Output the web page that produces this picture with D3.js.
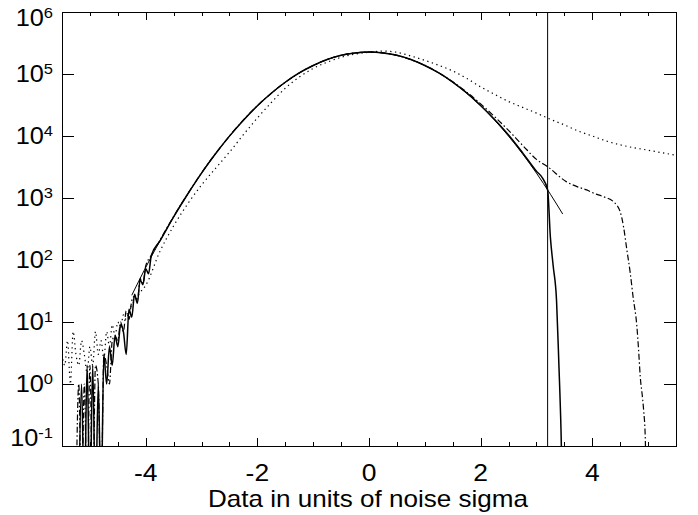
<!DOCTYPE html>
<meta charset="utf-8">
<style>
body { margin: 0; background: #fff; font-family: "Liberation Sans", Arial, sans-serif; }
.axis path, .axis line { fill: none; stroke: #000; shape-rendering: crispEdges; }
text { fill: #000; }
</style>
<body>
<svg id="chart" width="698" height="515"></svg>
<script src="https://d3js.org/d3.v7.min.js"></script>
<script>

// solid histogram
var solidX = [-5.20,-5.15,-5.10,-5.05,-5.00,-4.95,-4.90,-4.85,-4.80,-4.75,-4.70,-4.65,-4.60,-4.55,-4.50,-4.45,-4.40,-4.35,-4.30,-4.25,-4.20,-4.15,-4.10,-4.05,-4.00,-3.95,-3.90,-3.75,-3.50,-3.25,-3.00,-2.75,-2.50,-2.25,-2.00,-1.75,-1.50,-1.25,-1.00,-0.75,-0.50,-0.25,0,0.25,0.50,0.75,1.00,1.25,1.50,1.75,2.00,2.25,2.50,2.75,3.00,3.10,3.20,3.25,3.30,3.36,3.40,3.44,3.47];
var solidY = [0,1,0,2,0,2,0,1,0,3,1,4,2,6,4,9,7,3,16,12,28,20,48,40,72,60,118,200,497,1150,2520,5160,9950,18000,30700,49000,73600,104000,137000,171000,200000,219000,226000,219000,200000,171000,137000,104000,74000,49500,31000,18500,10400,5400,2700,2150,1350,230,80,22,2.3,0.18,0];

// dash-dot histogram
var dashX = [-5.25,-5.20,-5.15,-5.10,-5.05,-5.00,-4.95,-4.90,-4.85,-4.80,-4.75,-4.70,-4.65,-4.60,-4.55,-4.50,-4.45,-4.40,-4.35,-4.30,-4.25,-4.20,-4.15,-4.10,-4.05,-4.00,-3.90,-3.75,-3.50,-3.25,-3.00,-2.75,-2.50,-2.25,-2.00,-1.75,-1.50,-1.25,-1.00,-0.75,-0.50,-0.25,0,0.25,0.50,0.75,1.00,1.25,1.50,1.75,2.00,2.25,2.50,2.75,3.00,3.20,3.54,3.75,3.90,4.02,4.20,4.38,4.50,4.56,4.62,4.68,4.73,4.80,4.83,4.86,4.90,4.92,4.95,4.97];
var dashY = [0,1,0,1,0,2,0,2,1,0,3,2,1,5,6,5,10,7,15,11,22,26,22,50,42,80,118,205,505,1160,2550,5200,10000,18100,30800,49000,73800,104000,137000,171000,200000,219000,226000,219000,200000,171000,138000,105000,75000,51000,33000,20500,12300,7100,4200,3200,1820,1500,1350,1200,1050,870,600,344,145,62,26,8.3,3.5,1.3,0.6,0.38,0.13,0];

// dotted histogram
var dotX = [-5.50,-5.45,-5.40,-5.35,-5.30,-5.25,-5.20,-5.15,-5.10,-5.05,-5.00,-4.95,-4.90,-4.85,-4.80,-4.75,-4.70,-4.65,-4.60,-4.55,-4.50,-4.45,-4.40,-4.35,-4.30,-4.25,-4.20,-4.10,-4.00,-3.75,-3.50,-3.25,-3.00,-2.75,-2.50,-2.25,-2.00,-1.75,-1.50,-1.25,-1.00,-0.75,-0.50,-0.25,0,0.25,0.50,0.75,1.00,1.25,1.50,1.75,2.00,2.25,2.50,2.75,3.00,3.25,3.50,3.75,4.00,4.25,4.50,4.75,5.00,5.25,5.50];
var dotY = [3,2,5,1,7,3,2,5,3,1.5,4,2,7,3,5,2.5,7,4,9,6,10,8,13,11,15,19,22,30,39,135,355,800,1620,3000,5500,10500,19500,34700,58900,89000,123000,155000,186000,209000,224000,234000,224000,195000,166000,138000,112000,85000,62000,47000,36000,29000,23400,18600,15100,12000,10000,8300,7200,6450,5900,5370,4900];

// gaussian fit (thin solid)
var fitX = [-4.25,-4.00,-3.75,-3.50,-3.25,-3.00,-2.75,-2.50,-2.25,-2.00,-1.75,-1.50,-1.25,-1.00,-0.75,-0.50,-0.25,0,0.25,0.50,0.75,1.00,1.25,1.50,1.75,2.00,2.25,2.50,2.75,3.00,3.25,3.47];
var fitY = [27,76,200,497,1150,2520,5160,9950,18000,30700,49000,73600,104000,137000,171000,200000,219000,226000,219000,200000,171000,137000,104000,73600,49000,30700,18000,9950,5160,2520,1150,552];

var cutX = 3.2;
var yTicks = [1e-1, 1e0, 1e1, 1e2, 1e3, 1e4, 1e5, 1e6];
var yExps = ["-1", "0", "1", "2", "3", "4", "5", "6"];
var xTicks = [-4, -2, 0, 2, 4];

var svg = d3.select("#chart"),
    margin = {top: 12, right: 22, bottom: 69, left: 62},
    width = +svg.attr("width") - margin.left - margin.right,
    height = +svg.attr("height") - margin.top - margin.bottom;

var x = d3.scaleLinear().domain([-5.5, 5.5]).range([0, width]);
var y = d3.scaleLog().domain([0.1, 1e6]).range([height, 0]);

var g = svg.append("g")
    .attr("transform", "translate(" + margin.left + "," + margin.top + ")");

g.append("clipPath").attr("id", "plotclip")
  .append("rect").attr("width", width).attr("height", height);

function pairs(xs, ys) {
  return xs.map(function(d, i) { return [d, ys[i]]; });
}

var line = d3.line()
    .x(function(d) { return x(d[0]); })
    .y(function(d) { return y(Math.max(d[1], 0.01)); })
    .curve(d3.curveMonotoneX);

var plot = g.append("g").attr("clip-path", "url(#plotclip)");

plot.append("path").datum(pairs(dotX, dotY))
    .attr("d", line).attr("fill", "none").attr("stroke", "#000")
    .attr("stroke-width", 1.2).attr("stroke-dasharray", "1.3,3.5");

plot.append("path").datum(pairs(dashX, dashY))
    .attr("d", line).attr("fill", "none").attr("stroke", "#000")
    .attr("stroke-width", 1.2).attr("stroke-dasharray", "6,2.5,1.5,2.5");

plot.append("path").datum(pairs(solidX, solidY))
    .attr("d", line).attr("fill", "none").attr("stroke", "#000")
    .attr("stroke-width", 1.5);

plot.append("path").datum(pairs(fitX, fitY))
    .attr("d", line).attr("fill", "none").attr("stroke", "#000")
    .attr("stroke-width", 1);

// vertical cut line
plot.append("line")
    .attr("x1", x(cutX)).attr("x2", x(cutX))
    .attr("y1", 0).attr("y2", height)
    .attr("stroke", "#000").attr("stroke-width", 1);

// axes, ticks pointing inward
var minor = d3.range(-5.5, 5.51, 0.5);

g.append("g").attr("class", "axis")
    .attr("transform", "translate(0," + height + ")")
    .call(d3.axisBottom(x).tickValues(minor).tickSize(-4).tickSizeOuter(0).tickFormat(""));
g.append("g").attr("class", "axis")
    .attr("transform", "translate(0," + height + ")")
    .call(d3.axisBottom(x).tickValues(xTicks).tickSize(-8).tickSizeOuter(0).tickFormat(""));
g.append("g").attr("class", "axis")
    .call(d3.axisTop(x).tickValues(minor).tickSize(-4).tickSizeOuter(0).tickFormat(""));
g.append("g").attr("class", "axis")
    .call(d3.axisTop(x).tickValues(xTicks).tickSize(-8).tickSizeOuter(0).tickFormat(""));
g.append("g").attr("class", "axis")
    .call(d3.axisLeft(y).tickValues(yTicks).tickSize(-12).tickSizeOuter(0).tickFormat(""));
g.append("g").attr("class", "axis")
    .attr("transform", "translate(" + width + ",0)")
    .call(d3.axisRight(y).tickValues(yTicks).tickSize(-12).tickSizeOuter(0).tickFormat(""));

// x tick labels
g.selectAll(".xlab")
    .data(xTicks)
  .enter().append("text")
    .attr("class", "xlab")
    .attr("transform", function(d) { return "translate(" + x(d) + "," + (height + 35) + ") scale(1.15,1)"; })
    .attr("text-anchor", "middle")
    .style("font-size", "23px")
    .text(function(d) { return d < 0 ? "-" + Math.abs(d) : d; });

// y tick labels 10^n
var ylab = g.selectAll(".ylab")
    .data(yTicks)
  .enter().append("text")
    .attr("class", "ylab")
    .attr("transform", function(d) {
      var cy = Math.min(Math.max(y(d), 6), height - 8);
      return "translate(-9," + (cy + 8.2) + ") scale(1.1,1)";
    })
    .attr("text-anchor", "end")
    .style("font-size", "23px");
ylab.append("tspan").text("10");
ylab.append("tspan")
    .attr("dy", -8.5)
    .style("font-size", "15px")
    .text(function(d, i) { return yExps[i]; });

// axis title
g.append("text")
    .attr("x", x(0) - 1)
    .attr("y", height + 61)
    .attr("text-anchor", "middle")
    .attr("textLength", 320)
    .attr("lengthAdjust", "spacingAndGlyphs")
    .style("font-size", "24px")
    .text("Data in units of noise sigma");

</script>
</body>
